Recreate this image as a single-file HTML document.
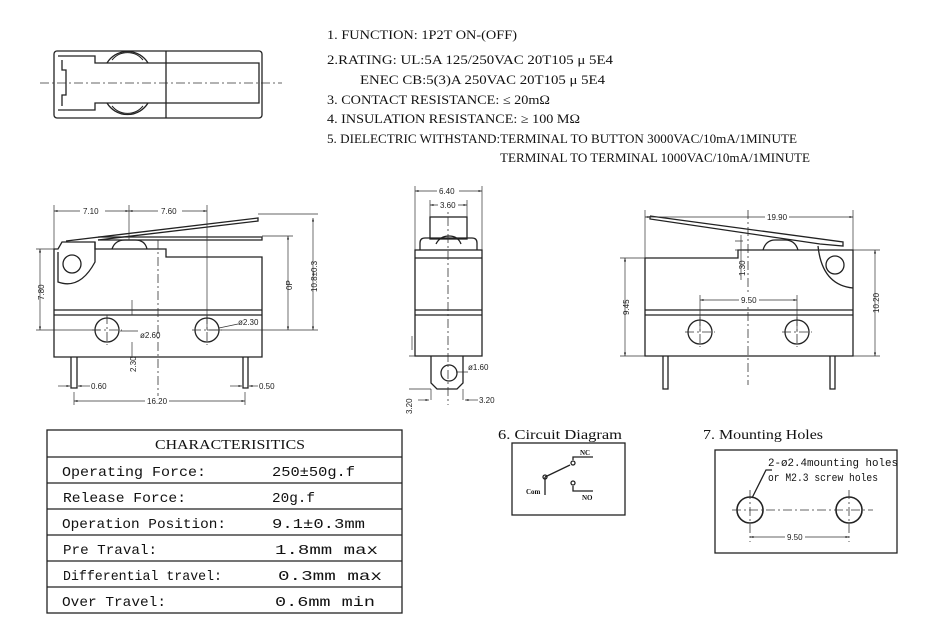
<!DOCTYPE html>
<html><head><meta charset="utf-8"><style>
html,body{margin:0;padding:0;background:#fff}
svg{display:block}
text{font-family:"Liberation Serif",serif;fill:#111}
text.m{font-family:"Liberation Mono",monospace}
.d{font-family:"Liberation Sans",sans-serif;font-size:8px;fill:#222}
</style></head><body>
<svg width="930" height="631" viewBox="0 0 930 631" xmlns="http://www.w3.org/2000/svg">
<defs><marker id="a" viewBox="0 0 10 10" refX="10" refY="5" markerWidth="5" markerHeight="5" orient="auto-start-reverse"><path d="M0,2 L10,5 L0,8z" fill="#222"/></marker></defs>
<g fill="none" stroke="#222" stroke-width="1.3">
<!-- top view -->
<rect x="54" y="51" width="208" height="67" rx="3"/>
<path d="M58,56 H95 V63 H259 V103 H95 V110 H58"/>
<path d="M62,60 V70 H66 V95 H62 V106"/>
<line x1="166" y1="51" x2="166" y2="118"/>
<path d="M107,63 A24,24 0 0 1 148,63 M107,103 A24,24 0 0 0 148,103"/>
<path d="M112,60 A20,20 0 0 1 143,60 M112,106 A20,20 0 0 0 143,106" stroke-width="1"/>
<!-- left side view -->
<path d="M54,357 V249 H58 L62,242 H95 V249 H166 V257 H262 V357 Z"/>
<line x1="54" y1="310" x2="262" y2="310"/><line x1="54" y1="315" x2="262" y2="315"/>
<path d="M58,252 L58,282 Q80,290 95,262 V242"/>
<circle cx="72" cy="264" r="9"/>
<path d="M66,241 L258,218 L258,221 L98,240"/>
<path d="M98,237 H262 V240 H98"/>
<path d="M112,249 Q115,240 125,240 H135 Q145,240 147,249"/>
<circle cx="107" cy="330" r="12"/><circle cx="207" cy="330" r="12"/>
<path d="M71,357 V388 H77 V357 M243,357 V388 H248 V357"/>
<!-- middle view -->
<rect x="415" y="250" width="67" height="106"/>
<line x1="415" y1="258" x2="482" y2="258"/><line x1="415" y1="310" x2="482" y2="310"/><line x1="415" y1="315" x2="482" y2="315"/>
<rect x="430" y="217" width="37" height="22"/>
<path d="M420,250 V243 Q420,238 425,238 H472 Q477,238 477,243 V250"/>
<path d="M436,244 Q440,236 449,236 Q458,236 461,244"/>
<path d="M431,356 V383 L437,389 H457 L463,383 V356"/>
<circle cx="449" cy="373" r="8"/>
<!-- right view -->
<path d="M645,356 V258 H738 V250 H853 V356 Z"/>
<line x1="645" y1="310" x2="853" y2="310"/><line x1="645" y1="315" x2="853" y2="315"/>
<path d="M650,216 L843,242 L843,246 L820,244 M650,216 L650,219 L820,244"/>
<path d="M818,246 Q822,285 853,288"/>
<circle cx="835" cy="265" r="9"/>
<path d="M763,250 Q766,240 775,240 H785 Q795,240 798,250"/>
<circle cx="700" cy="332" r="12"/><circle cx="797" cy="332" r="12"/>
<path d="M663,356 V389 H668 V356 M830,356 V389 H835 V356"/>
<!-- table -->
<rect x="47" y="430" width="355" height="183"/>
<path d="M47,457 H402 M47,483 H402 M47,509 H402 M47,535 H402 M47,561 H402 M47,587 H402"/>
<!-- circuit -->
<rect x="512" y="443" width="113" height="72"/>
<path d="M545,477 L570,465 M545,477 V495 M573,460 V457 H593 M573,486 V491 H593"/>
<circle cx="545" cy="477" r="2" /><circle cx="573" cy="463" r="2"/><circle cx="573" cy="483" r="2"/>
<!-- mounting -->
<rect x="715" y="450" width="182" height="103"/>
<circle cx="750" cy="510" r="13" stroke-width="1.6"/><circle cx="849" cy="510" r="13" stroke-width="1.6"/>
<path d="M772,470 L766,470 L752,498"/>
</g>
<!-- centerlines -->
<g stroke="#333" stroke-width="0.8" fill="none" stroke-dasharray="9,3,2,3">
<line x1="40" y1="83" x2="282" y2="83"/>
<line x1="158" y1="240" x2="158" y2="405"/>
<line x1="448" y1="200" x2="448" y2="405"/>
<line x1="748" y1="210" x2="748" y2="385"/>
<line x1="732" y1="510" x2="873" y2="510"/>
<line x1="750" y1="490" x2="750" y2="542"/><line x1="849" y1="490" x2="849" y2="542"/>
<line x1="92" y1="330" x2="122" y2="330"/><line x1="107" y1="315" x2="107" y2="345"/>
<line x1="192" y1="330" x2="222" y2="330"/><line x1="207" y1="315" x2="207" y2="345"/>
<line x1="685" y1="332" x2="715" y2="332"/><line x1="700" y1="317" x2="700" y2="347"/>
<line x1="782" y1="332" x2="812" y2="332"/><line x1="797" y1="317" x2="797" y2="347"/>
</g>
<!-- dimension lines -->
<g stroke="#333" stroke-width="0.7" fill="none">
<path d="M54,205 V249 M129,205 V240 M207,205 V330 M258,214 H318 M262,236 H293 M207,330 H318 M36,249 H54 M36,330 H100 M74,392 V405 M245,392 V405"/>
<line x1="54" y1="211" x2="129" y2="211" marker-start="url(#a)" marker-end="url(#a)"/>
<line x1="129" y1="211" x2="207" y2="211" marker-start="url(#a)" marker-end="url(#a)"/>
<line x1="313" y1="218" x2="313" y2="330" marker-start="url(#a)" marker-end="url(#a)"/>
<line x1="288" y1="236" x2="288" y2="330" marker-start="url(#a)" marker-end="url(#a)"/>
<line x1="40" y1="249" x2="40" y2="330" marker-start="url(#a)" marker-end="url(#a)"/>
<line x1="74" y1="401" x2="245" y2="401" marker-start="url(#a)" marker-end="url(#a)"/>
<path d="M132,315 V300 M132,342 V358"/>
<line x1="58" y1="386" x2="70" y2="386" marker-end="url(#a)"/><line x1="90" y1="386" x2="78" y2="386" marker-end="url(#a)"/>
<line x1="230" y1="386" x2="242" y2="386" marker-end="url(#a)"/><line x1="258" y1="386" x2="249" y2="386" marker-end="url(#a)"/>
<line x1="138" y1="331" x2="120" y2="331"/><line x1="238" y1="324" x2="219" y2="328"/>
<path d="M415,186 V250 M482,186 V250 M430,200 V217 M467,200 V217"/>
<line x1="415" y1="191" x2="482" y2="191" marker-start="url(#a)" marker-end="url(#a)"/>
<line x1="430" y1="205" x2="467" y2="205" marker-start="url(#a)" marker-end="url(#a)"/>
<path d="M409,356 H415 M409,389 H431 M463,389 V400 M431,389 V400 M412,336 V350 M456,372 H468"/>
<line x1="418" y1="400" x2="429" y2="400" marker-end="url(#a)"/><line x1="478" y1="400" x2="465" y2="400" marker-end="url(#a)"/>
<path d="M645,210 V258 M853,210 V250 M620,258 H645 M620,356 H645 M853,250 H880 M853,356 H880 M700,295 V332 M797,295 V332 M735,241 H743 M735,250 H743"/>
<line x1="645" y1="217" x2="853" y2="217" marker-start="url(#a)" marker-end="url(#a)"/>
<line x1="625" y1="258" x2="625" y2="356" marker-start="url(#a)" marker-end="url(#a)"/>
<line x1="875" y1="250" x2="875" y2="356" marker-start="url(#a)" marker-end="url(#a)"/>
<line x1="700" y1="300" x2="797" y2="300" marker-start="url(#a)" marker-end="url(#a)"/>
<line x1="741" y1="235" x2="741" y2="280"/>
<line x1="750" y1="537" x2="849" y2="537" marker-start="url(#a)" marker-end="url(#a)"/>
</g>
<!-- dim labels -->
<g class="d">
<rect x="80" y="206" width="25" height="10" fill="#fff"/><text class="d" x="83" y="214">7.10</text>
<rect x="158" y="206" width="24" height="10" fill="#fff"/><text class="d" x="161" y="214">7.60</text>
<text class="d" transform="translate(292,290) rotate(-90)">0P</text>
<text class="d" transform="translate(317,292) rotate(-90)">10.8±0.3</text>
<text class="d" transform="translate(44,300) rotate(-90)">7.80</text>
<text class="d" x="140" y="338">ø2.60</text>
<text class="d" x="238" y="325">ø2.30</text>
<text class="d" transform="translate(136,372) rotate(-90)">2.30</text>
<text class="d" x="91" y="389">0.60</text>
<text class="d" x="259" y="389">0.50</text>
<rect x="145" y="396" width="24" height="10" fill="#fff"/><text class="d" x="147" y="404">16.20</text>
<rect x="437" y="186" width="22" height="10" fill="#fff"/><text class="d" x="439" y="194">6.40</text>
<rect x="438" y="200" width="20" height="10" fill="#fff"/><text class="d" x="440" y="208">3.60</text>
<text class="d" x="468" y="370">ø1.60</text>
<text class="d" transform="translate(412,414) rotate(-90)">3.20</text>
<text class="d" x="479" y="403">3.20</text>
<rect x="765" y="212" width="24" height="10" fill="#fff"/><text class="d" x="767" y="220">19.90</text>
<text class="d" transform="translate(629,315) rotate(-90)">9.45</text>
<text class="d" transform="translate(879,313) rotate(-90)">10.20</text>
<rect x="739" y="295" width="20" height="10" fill="#fff"/><text class="d" x="741" y="303">9.50</text>
<text class="d" transform="translate(745,276) rotate(-90)">1.30</text>
<rect x="785" y="532" width="20" height="10" fill="#fff"/><text class="d" x="787" y="540">9.50</text>
</g>
<!-- spec text -->
<g font-size="12.5">
<text x="327" y="39" textLength="190" lengthAdjust="spacingAndGlyphs">1. FUNCTION: 1P2T ON-(OFF)</text>
<text x="327" y="64" textLength="286" lengthAdjust="spacingAndGlyphs">2.RATING: UL:5A 125/250VAC 20T105 μ 5E4</text>
<text x="360" y="84" textLength="245" lengthAdjust="spacingAndGlyphs">ENEC CB:5(3)A 250VAC 20T105 μ 5E4</text>
<text x="327" y="104" textLength="223" lengthAdjust="spacingAndGlyphs">3. CONTACT RESISTANCE: ≤ 20mΩ</text>
<text x="327" y="123" textLength="253" lengthAdjust="spacingAndGlyphs">4. INSULATION RESISTANCE: ≥ 100 MΩ</text>
<text x="327" y="143" textLength="470" lengthAdjust="spacingAndGlyphs">5. DIELECTRIC WITHSTAND:TERMINAL TO BUTTON 3000VAC/10mA/1MINUTE</text>
<text x="500" y="162" textLength="310" lengthAdjust="spacingAndGlyphs">TERMINAL TO TERMINAL 1000VAC/10mA/1MINUTE</text>
</g>
<!-- table text -->
<text x="155" y="449" font-size="14" textLength="150" lengthAdjust="spacingAndGlyphs">CHARACTERISITICS</text>
<g font-size="14">
<text class="m" x="62" y="476" textLength="144" lengthAdjust="spacingAndGlyphs">Operating Force:</text>
<text class="m" x="272" y="476" textLength="83" lengthAdjust="spacingAndGlyphs">250±50g.f</text>
<text class="m" x="63" y="502" textLength="123" lengthAdjust="spacingAndGlyphs">Release Force:</text>
<text class="m" x="272" y="502" textLength="43" lengthAdjust="spacingAndGlyphs">20g.f</text>
<text class="m" x="62" y="528" textLength="164" lengthAdjust="spacingAndGlyphs">Operation Position:</text>
<text class="m" x="272" y="528" textLength="93" lengthAdjust="spacingAndGlyphs">9.1±0.3mm</text>
<text class="m" x="63" y="554" textLength="94" lengthAdjust="spacingAndGlyphs">Pre Traval:</text>
<text class="m" x="275" y="554" textLength="103" lengthAdjust="spacingAndGlyphs">1.8mm max</text>
<text class="m" x="63" y="580" textLength="159" lengthAdjust="spacingAndGlyphs">Differential travel:</text>
<text class="m" x="278" y="580" textLength="104" lengthAdjust="spacingAndGlyphs">0.3mm max</text>
<text class="m" x="62" y="606" textLength="104" lengthAdjust="spacingAndGlyphs">Over Travel:</text>
<text class="m" x="275" y="606" textLength="100" lengthAdjust="spacingAndGlyphs">0.6mm min</text>
</g>
<text x="498" y="439" font-size="14" textLength="124" lengthAdjust="spacingAndGlyphs">6. Circuit Diagram</text>
<text x="703" y="439" font-size="14" textLength="120" lengthAdjust="spacingAndGlyphs">7. Mounting Holes</text>
<text x="580" y="455" font-size="7" font-weight="bold">NC</text>
<text x="582" y="500" font-size="7" font-weight="bold">NO</text>
<text x="526" y="494" font-size="7" font-weight="bold">Com</text>
<text class="m" x="768" y="466" font-size="11" textLength="130" lengthAdjust="spacingAndGlyphs">2-ø2.4mounting holes</text>
<text class="m" x="768" y="481" font-size="11" textLength="110" lengthAdjust="spacingAndGlyphs">or M2.3 screw holes</text>
</svg>
</body></html>
